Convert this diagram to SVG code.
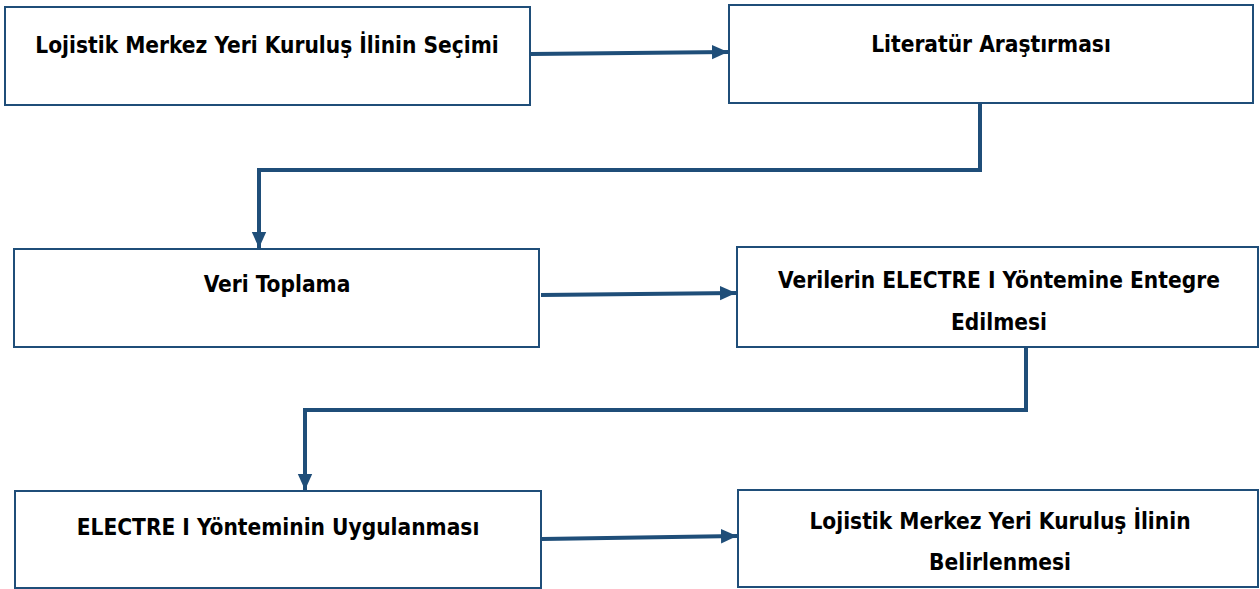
<svg xmlns="http://www.w3.org/2000/svg" width="1260" height="589" viewBox="0 0 1260 589">
<style>
.box{fill:#fff;stroke:#1F4E79;stroke-width:2}
.lbl{font-family:"Liberation Sans Narrow","DejaVu Sans Condensed","Liberation Sans",sans-serif;font-weight:bold;font-size:22.5px;fill:#000;text-anchor:middle}
.con{fill:none;stroke:#1F4E79;stroke-width:4;stroke-linejoin:miter}
</style>
<defs>
<marker id="ah" markerWidth="4" markerHeight="4" refX="4" refY="2" orient="auto" markerUnits="strokeWidth">
<path d="M0,0.2 L4,2 L0,3.8 Z" fill="#1F4E79"/>
</marker>
</defs>
<rect width="1260" height="589" fill="#fff"/>
<g id="n1"><rect class="box" x="5" y="7" width="525" height="98"/><text class="lbl" x="267" y="53">Lojistik Merkez Yeri Kuruluş İlinin Seçimi</text></g>
<g id="n2"><rect class="box" x="729" y="5" width="524" height="98"/><text class="lbl" x="991" y="52">Literatür Araştırması</text></g>
<g id="n3"><rect class="box" x="14" y="249" width="525" height="98"/><text class="lbl" x="277" y="292">Veri Toplama</text></g>
<g id="n4"><rect class="box" x="737" y="247" width="521" height="100"/><text class="lbl" x="999" y="288">Verilerin ELECTRE I Yöntemine Entegre</text><text class="lbl" x="999" y="330">Edilmesi</text></g>
<g id="n5"><rect class="box" x="15" y="491" width="526" height="97"/><text class="lbl" x="278" y="535">ELECTRE I Yönteminin Uygulanması</text></g>
<g id="n6"><rect class="box" x="738" y="490" width="520" height="97"/><text class="lbl" x="1000" y="529">Lojistik Merkez Yeri Kuruluş İlinin</text><text class="lbl" x="1000" y="570">Belirlenmesi</text></g>
<g id="connectors">
<path class="con" d="M531,54 L728,52" marker-end="url(#ah)"/>
<path class="con" d="M980,104 L980,170 L259,170 L259,248" marker-end="url(#ah)"/>
<path class="con" d="M541,295 L736,293" marker-end="url(#ah)"/>
<path class="con" d="M1026,348 L1026,410 L305,410 L305,490" marker-end="url(#ah)"/>
<path class="con" d="M542,539 L737,536" marker-end="url(#ah)"/>
</g>
</svg>
